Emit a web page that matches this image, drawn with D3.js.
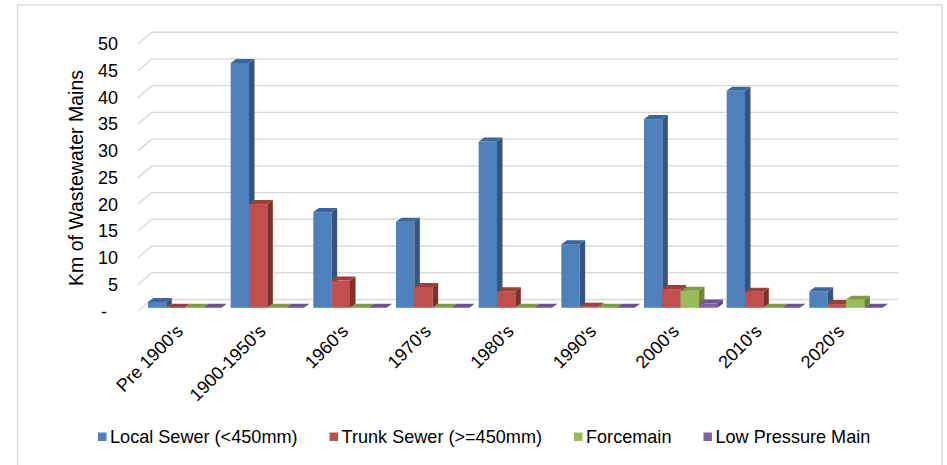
<!DOCTYPE html>
<html>
<head>
<meta charset="utf-8">
<script src="https://cdn.jsdelivr.net/npm/d3@7"></script>
<style>
  html, body { margin: 0; padding: 0; background: #fff; }
  svg { display: block; font-family: "Liberation Sans", Arial, sans-serif; }
</style>
</head>
<body>
<svg id="chart" width="947" height="465"></svg>
<script>
// Kilometres of wastewater main by installation decade
const decades = ["Pre 1900's", "1900-1950's", "1960's", "1970's", "1980's", "1990's", "2000's", "2010's", "2020's"];
const seriesNames = ["Local Sewer (<450mm)", "Trunk Sewer (>=450mm)", "Forcemain", "Low Pressure Main"];
const localSewer   = [1.1, 45.8, 17.9, 16.1, 31.1, 11.9, 35.3, 40.6, 3.1];
const trunkSewer   = [0, 19.4, 5.1, 3.9, 3.1, 0.2, 3.5, 3.0, 0.7];
const forcemain    = [0, 0, 0, 0, 0, 0, 3.2, 0, 1.5];
const lowPressure  = [0, 0, 0, 0, 0, 0, 0.8, 0, 0];
const yTicks = [0, 5, 10, 15, 20, 25, 30, 35, 40, 45, 50];

const seriesValues = [localSewer, trunkSewer, forcemain, lowPressure];
// front, side and top shading for each series
const palette = [
  { front: "#4f81bd", side: "#33557f", top: "#3c679c" },
  { front: "#c0504d", side: "#7f2f2c", top: "#9d3e3b" },
  { front: "#9bbb59", side: "#6a8438", top: "#7f9c45" },
  { front: "#8064a2", side: "#57427a", top: "#6b5590" }
];

const svg = d3.select("#chart");

// outer frame
svg.append("rect")
  .attr("x", 17.5).attr("y", 5)
  .attr("width", 924.5).attr("height", 480)
  .attr("fill", "none").attr("stroke", "#d9d9d9").attr("stroke-width", 1.5);

// value scale on the plane of the bar fronts
const y = d3.scaleLinear().domain([0, 50]).range([307.8, 40.5]);
const wallShift = -8.3;          // back wall sits above the bar plane
const wallLeft = 151.7, wallRight = 898;
const sideDx = -14, sideDy = 12; // slanted left wall edge

const x = d3.scaleBand()
  .domain(decades)
  .range([143.33, 887.33])
  .paddingInner(0.1129)
  .paddingOuter(0.0565);

const xs = d3.scaleBand()
  .domain(seriesNames)
  .range([0, x.bandwidth()])
  .padding(0);

// gridlines on the back wall plus the slanted left-wall edges
const grid = svg.append("g");
yTicks.forEach(v => {
  const wy = y(v) + wallShift;
  grid.append("line")
    .attr("x1", wallLeft).attr("x2", wallRight)
    .attr("y1", wy).attr("y2", wy)
    .attr("stroke", "#d9d9d9").attr("stroke-width", 1.4);
  grid.append("line")
    .attr("x1", wallLeft + sideDx).attr("y1", wy + sideDy)
    .attr("x2", wallLeft).attr("y2", wy)
    .attr("stroke", "#d9d9d9").attr("stroke-width", 1.4);
});

// 3D columns
const depthX = 5.5, depthY = -4;
const bars = svg.append("g");
decades.forEach((dec, i) => {
  seriesNames.forEach((name, s) => {
    const v = seriesValues[s][i];
    const x0 = x(dec) + xs(name);
    const w = xs.bandwidth();
    const y0 = y(0), y1 = y(v);
    const c = palette[s];
    const g = bars.append("g");
    if (v > 0) {
      g.append("rect")
        .attr("x", x0).attr("y", y1)
        .attr("width", w).attr("height", y0 - y1)
        .attr("fill", c.front);
      g.append("path")
        .attr("d", `M${x0 + w},${y1} L${x0 + w + depthX},${y1 + depthY} L${x0 + w + depthX},${y0 + depthY} L${x0 + w},${y0} Z`)
        .attr("fill", c.side);
    }
    g.append("path")
      .attr("d", `M${x0},${y1} L${x0 + depthX},${y1 + depthY} L${x0 + w + depthX},${y1 + depthY} L${x0 + w},${y1} Z`)
      .attr("fill", c.top);
  });
});

// value axis labels
const yAxis = svg.append("g")
  .attr("transform", "translate(118,3.5)")
  .call(d3.axisLeft(y).tickValues(yTicks).tickSize(0).tickPadding(0)
    .tickFormat(d => d === 0 ? "-" : d));
yAxis.select(".domain").remove();
yAxis.selectAll("text")
  .attr("font-size", 18).attr("fill", "#000")
  .attr("font-family", "Liberation Sans, Arial, sans-serif")
  .filter(d => d === 0).attr("x", -11);

// decade labels
const xAxis = svg.append("g")
  .attr("transform", "translate(0,328)")
  .call(d3.axisBottom(x).tickSize(0).tickPadding(0));
xAxis.select(".domain").remove();
xAxis.selectAll("text")
  .attr("font-size", 18).attr("fill", "#000")
  .attr("font-family", "Liberation Sans, Arial, sans-serif")
  .attr("text-anchor", "end")
  .attr("x", 0).attr("y", 0).attr("dy", "0.35em")
  .attr("transform", "translate(-5,0) rotate(-45)");

// axis title
svg.append("text")
  .attr("transform", "translate(76.5,178) rotate(-90)")
  .attr("text-anchor", "middle").attr("dy", "0.35em")
  .attr("font-size", 19.5).attr("fill", "#000")
  .text("Km of Wastewater Mains");

// legend
const legend = svg.append("g").attr("transform", "translate(98,437)");
let lx = 0;
seriesNames.forEach((name, s) => {
  legend.append("rect")
    .attr("x", lx).attr("y", -4.5)
    .attr("width", 8.5).attr("height", 8.5)
    .attr("fill", palette[s].front);
  const t = legend.append("text")
    .attr("x", lx + 12).attr("y", 0).attr("dy", "0.35em")
    .attr("font-size", 18.1).attr("fill", "#000")
    .text(name);
  lx += 12 + t.node().getComputedTextLength() + 32;
});
</script>
</body>
</html>
